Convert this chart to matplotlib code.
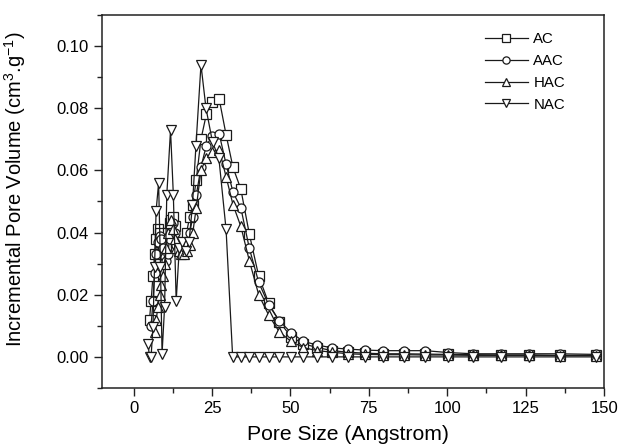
import matplotlib
matplotlib.use("Agg")
import matplotlib.pyplot as plt
from matplotlib.ticker import MultipleLocator

plt.rcParams['font.family'] = ['Liberation Sans', 'DejaVu Sans']
plt.rcParams['mathtext.fontset'] = 'custom'
plt.rcParams['mathtext.rm'] = 'Liberation Sans'

# ---------------- data ----------------
x_ac = [5.1, 5.6, 6.2, 6.7, 7.2, 7.8, 8.3, 8.8, 9.3, 9.9, 10.4, 10.9, 11.5, 12.0,
        12.6, 13.1, 13.7, 14.4, 15.2, 16.0, 16.9, 17.9, 18.9, 20.0, 21.5, 23.2,
        25.1, 27.3, 29.5, 31.7, 34.2, 36.9, 39.9, 43.1, 46.5, 50.2, 54.1, 58.6,
        63.4, 68.4, 73.7, 79.5, 86.1, 93.0, 100.2, 108.3, 117.1, 126.2, 135.8, 147.4]
y_ac = [0.012, 0.018, 0.026, 0.033, 0.038, 0.041, 0.040, 0.037, 0.034, 0.033,
        0.036, 0.040, 0.043, 0.044, 0.045, 0.042, 0.037, 0.035, 0.034, 0.036,
        0.040, 0.045, 0.049, 0.057, 0.070, 0.078, 0.082, 0.083, 0.0715, 0.061,
        0.054, 0.0396, 0.026, 0.0172, 0.0113, 0.0065, 0.0042, 0.0030, 0.0020,
        0.0015, 0.0012, 0.0010, 0.0010, 0.0009, 0.0008, 0.0007, 0.0006, 0.0006,
        0.0005, 0.0005]

x_aac = [5.6, 6.2, 6.7, 7.2, 7.8, 8.3, 8.8, 9.3, 9.9, 10.4, 10.9, 11.5, 12.0,
         12.6, 13.1, 13.7, 14.4, 15.2, 16.0, 16.9, 17.9, 18.9, 20.0, 21.5, 23.2,
         25.1, 27.3, 29.5, 31.7, 34.2, 36.9, 39.9, 43.1, 46.5, 50.2, 54.1, 58.6,
         63.4, 68.4, 73.7, 79.5, 86.1, 93.0, 100.2, 108.3, 117.1, 126.2, 135.8, 147.4]
y_aac = [0.010, 0.018, 0.027, 0.033, 0.037, 0.039, 0.038, 0.035, 0.032, 0.031,
         0.033, 0.038, 0.042, 0.043, 0.040, 0.036, 0.034, 0.033, 0.034, 0.036,
         0.040, 0.045, 0.052, 0.061, 0.068, 0.071, 0.0718, 0.062, 0.053, 0.048,
         0.035, 0.024, 0.0167, 0.0116, 0.0078, 0.0050, 0.0038, 0.0029, 0.0025,
         0.0022, 0.0020, 0.0020, 0.0020, 0.0014, 0.0010, 0.0010, 0.0010, 0.0010,
         0.0008]

x_hac = [6.7, 7.2, 7.8, 8.3, 8.8, 9.3, 9.9, 10.4, 10.9, 11.5, 12.0, 12.6, 13.1,
         13.7, 14.4, 15.2, 16.0, 16.9, 17.9, 18.9, 20.0, 21.5, 23.2, 25.1, 27.3,
         29.5, 31.7, 34.2, 36.9, 39.9, 43.1, 46.5, 50.2, 54.1, 58.6, 63.4, 68.4,
         73.7, 79.5, 86.1, 93.0, 100.2, 108.3, 117.1, 126.2, 135.8, 147.4]
y_hac = [0.008, 0.012, 0.016, 0.020, 0.023, 0.026, 0.030, 0.035, 0.040, 0.043,
         0.044, 0.041, 0.038, 0.035, 0.034, 0.033, 0.033, 0.034, 0.036, 0.040,
         0.048, 0.060, 0.064, 0.066, 0.0667, 0.058, 0.049, 0.042, 0.031, 0.020,
         0.0134, 0.0080, 0.0050, 0.0030, 0.0020, 0.0015, 0.0010, 0.0008, 0.0007,
         0.0007, 0.0006, 0.0006, 0.0005, 0.0005, 0.0005, 0.0004, 0.0004]

x_nac = [4.6, 5.1, 5.6, 6.2, 6.7, 7.2, 8.0, 8.6, 9.1, 9.9, 10.6, 11.8, 12.7, 13.6,
         14.6, 15.6, 16.6, 17.7, 18.8, 19.9, 21.5, 23.1, 25.2, 27.2, 29.5, 31.6,
         34.2, 36.9, 39.9, 43.1, 46.5, 50.2, 54.1, 58.6, 63.4, 68.4, 73.7, 79.5,
         86.1, 93.0, 100.2, 108.3, 117.1, 126.2, 135.8, 147.4]
y_nac = [0.0043, 0.0, 0.0, 0.0097, 0.029, 0.047, 0.056, 0.029, 0.001, 0.016,
         0.052, 0.073, 0.052, 0.018, 0.035, 0.037, 0.034, 0.037, 0.049, 0.068,
         0.094, 0.080, 0.069, 0.064, 0.041, 0.0, 0.0, 0.0, 0.0, 0.0, 0.0, 0.0,
         0.0, 0.0, 0.0, 0.0, 0.0, 0.0, 0.0, 0.0, 0.0, 0.0, 0.0, 0.0, 0.0, 0.0]

labels = ["AC", "AAC", "HAC", "NAC"]
markers = ["s", "o", "^", "v"]

x_ticks = [0, 25, 50, 75, 100, 125, 150]
y_ticks = [0.00, 0.02, 0.04, 0.06, 0.08, 0.10]

# ---------------- plot ----------------
fig = plt.figure(figsize=(6.19, 4.48), dpi=100)
ax = fig.add_axes([0.165, 0.134, 0.811, 0.8325])

series = [(x_ac, y_ac), (x_aac, y_aac), (x_hac, y_hac), (x_nac, y_nac)]
for (xs, ys), lab, m in zip(series, labels, markers):
    ax.plot(xs, ys, color="#1a1a1a", lw=0.9, marker=m, markersize=6.5,
            markerfacecolor="white", markeredgecolor="#1a1a1a",
            markeredgewidth=0.9, label=lab)

ax.set_xlim(-10, 150)
ax.set_ylim(-0.010, 0.110)
ax.set_xticks(x_ticks)
ax.set_yticks(y_ticks)
ax.set_yticklabels([f"{v:.2f}" for v in y_ticks])
ax.xaxis.set_minor_locator(MultipleLocator(12.5))
ax.yaxis.set_minor_locator(MultipleLocator(0.01))
ax.tick_params(which="major", direction="out", length=6, width=1,
               labelsize=12, top=False, right=False, color="#222222")
ax.tick_params(which="minor", direction="out", length=3.5, width=1,
               top=False, right=False, color="#222222")
for sp in ax.spines.values():
    sp.set_linewidth(1.1)
    sp.set_color("#222222")

ax.set_xlabel("Pore Size (Angstrom)", fontsize=15.2, labelpad=6)
ax.xaxis.set_label_coords(0.49, -0.098, transform=ax.transAxes)
ax.xaxis.label.set_va("top")
ax.set_ylabel(r"Incremental Pore Volume (cm$^{\mathregular{3}}$.g$^{\mathregular{-1}}$)",
              fontsize=14.5, labelpad=9)
ax.yaxis.set_label_coords(-0.147, 0.533)

ax.legend(loc="upper right", frameon=False, fontsize=10.8, handlelength=2.9,
          handletextpad=0.35, labelspacing=0.52, borderaxespad=0.5,
          bbox_to_anchor=(0.949, 0.99), markerscale=0.8)

fig.savefig("out.png", dpi=100)
